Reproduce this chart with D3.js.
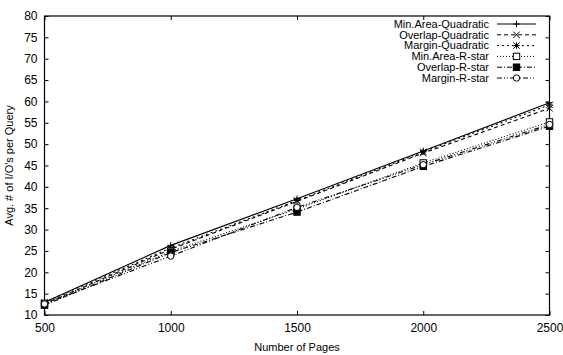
<!DOCTYPE html>
<html>
<head>
<meta charset="utf-8">
<script src="https://cdn.jsdelivr.net/npm/d3@7"></script>
<style>
  body { margin: 0; background: #fff; }
  svg { font-family: "Liberation Sans", Arial, sans-serif; }
</style>
</head>
<body>
<div id="chart"></div>
<script>
const pages = [500, 1000, 1500, 2000, 2500];
const seriesNames = ["Min.Area-Quadratic", "Overlap-Quadratic", "Margin-Quadratic",
  "Min.Area-R-star", "Overlap-R-star", "Margin-R-star"];
const minAreaQuad = [13, 26.3, 37.2, 48.4, 59.7];
const overlapQuad = [12.6, 25.4, 36.6, 47.9, 58.4];
const marginQuad = [13, 25.7, 36.8, 48.2, 59.2];
const minAreaRstar = [12.7, 24.9, 34.8, 45.6, 55.2];
const overlapRstar = [12.3, 24.6, 34.1, 44.8, 54.2];
const marginRstar = [12.6, 23.8, 35.2, 45.2, 54.6];
const yTicks = [10, 15, 20, 25, 30, 35, 40, 45, 50, 55, 60, 65, 70, 75, 80];
const xTicks = [500, 1000, 1500, 2000, 2500];

const allValues = [minAreaQuad, overlapQuad, marginQuad, minAreaRstar, overlapRstar, marginRstar];
const dashes = [null, "4,3", "2,3", "1,2", "5,2,1,2", "5,2,1,2,1,2"];
const markers = ["plus", "cross", "star", "box", "fbox", "circle"];

const W = 563, H = 355;
const margin = { top: 16, right: 13.5, bottom: 40, left: 44.5 };
const width = W - margin.left - margin.right;
const height = H - margin.top - margin.bottom;

const svg = d3.select("#chart").append("svg")
  .attr("width", W).attr("height", H);
const g = svg.append("g").attr("transform", `translate(${margin.left},${margin.top})`);

const x = d3.scaleLinear().domain([500, 2500]).range([0, width]);
const y = d3.scaleLinear().domain([10, 80]).range([height, 0]);
const fmt = d3.format("d");

// axes with inward ticks, mirrored on top/right
const tl = 4;
g.append("g").attr("transform", `translate(0,${height})`)
  .call(d3.axisBottom(x).tickValues(xTicks).tickFormat(fmt).tickSizeInner(-tl).tickSizeOuter(0).tickPadding(8))
  .call(a => a.select(".domain").remove());
g.append("g")
  .call(d3.axisTop(x).tickValues(xTicks).tickSizeInner(-tl).tickSizeOuter(0).tickFormat(""))
  .call(a => a.select(".domain").remove());
g.append("g")
  .call(d3.axisLeft(y).tickValues(yTicks).tickFormat(fmt).tickSizeInner(-tl).tickSizeOuter(0).tickPadding(7))
  .call(a => a.select(".domain").remove());
g.append("g").attr("transform", `translate(${width},0)`)
  .call(d3.axisRight(y).tickValues(yTicks).tickSizeInner(-tl).tickSizeOuter(0).tickFormat(""))
  .call(a => a.select(".domain").remove());

g.selectAll(".tick text").attr("font-size", 12).attr("fill", "#000")
  .attr("font-family", "Liberation Sans, Arial, sans-serif");
g.selectAll(".tick line").attr("stroke", "#000").attr("stroke-width", 1);

g.append("rect").attr("width", width).attr("height", height)
  .attr("fill", "none").attr("stroke", "#000").attr("stroke-width", 1.2);

// axis titles
svg.append("text").attr("x", margin.left + width / 2).attr("y", 351)
  .attr("text-anchor", "middle").attr("font-size", 11).text("Number of Pages");
svg.append("text").attr("transform", `translate(13,${margin.top + height / 2}) rotate(-90)`)
  .attr("text-anchor", "middle").attr("font-size", 11).text("Avg. # of I/O's per Query");

function drawMarker(sel, type, cx, cy) {
  const s = 3.2;
  if (type === "plus") {
    sel.append("path").attr("d", `M${cx - s},${cy}H${cx + s}M${cx},${cy - s}V${cy + s}`)
      .attr("stroke", "#000").attr("fill", "none");
  } else if (type === "cross") {
    sel.append("path").attr("d", `M${cx - s},${cy - s}L${cx + s},${cy + s}M${cx - s},${cy + s}L${cx + s},${cy - s}`)
      .attr("stroke", "#000").attr("fill", "none");
  } else if (type === "star") {
    sel.append("path").attr("d", `M${cx - s},${cy}H${cx + s}M${cx},${cy - s}V${cy + s}M${cx - s},${cy - s}L${cx + s},${cy + s}M${cx - s},${cy + s}L${cx + s},${cy - s}`)
      .attr("stroke", "#000").attr("fill", "none");
  } else if (type === "box") {
    sel.append("rect").attr("x", cx - s).attr("y", cy - s).attr("width", 2 * s).attr("height", 2 * s)
      .attr("fill", "#fff").attr("stroke", "#000");
  } else if (type === "fbox") {
    sel.append("rect").attr("x", cx - s).attr("y", cy - s).attr("width", 2 * s).attr("height", 2 * s)
      .attr("fill", "#000").attr("stroke", "#000");
  } else {
    sel.append("circle").attr("cx", cx).attr("cy", cy).attr("r", s)
      .attr("fill", "#fff").attr("stroke", "#000");
  }
}

const line = d3.line().x(d => x(d[0])).y(d => y(d[1]));

allValues.forEach((vals, i) => {
  const pts = pages.map((p, j) => [p, vals[j]]);
  g.append("path").datum(pts).attr("d", line)
    .attr("fill", "none").attr("stroke", "#000").attr("stroke-width", 1.1)
    .attr("stroke-dasharray", dashes[i]);
  const mg = g.append("g");
  pts.forEach(p => drawMarker(mg, markers[i], x(p[0]), y(p[1])));
});

// legend
const legend = svg.append("g");
seriesNames.forEach((name, i) => {
  const ly = 24 + i * 10.8;
  legend.append("text").attr("x", 489).attr("y", ly).attr("dy", "0.35em")
    .attr("text-anchor", "end").attr("font-size", 11).text(name);
  legend.append("line").attr("x1", 497).attr("x2", 536).attr("y1", ly).attr("y2", ly)
    .attr("stroke", "#000").attr("stroke-dasharray", dashes[i]);
  drawMarker(legend, markers[i], 516.5, ly);
});
</script>
</body>
</html>
